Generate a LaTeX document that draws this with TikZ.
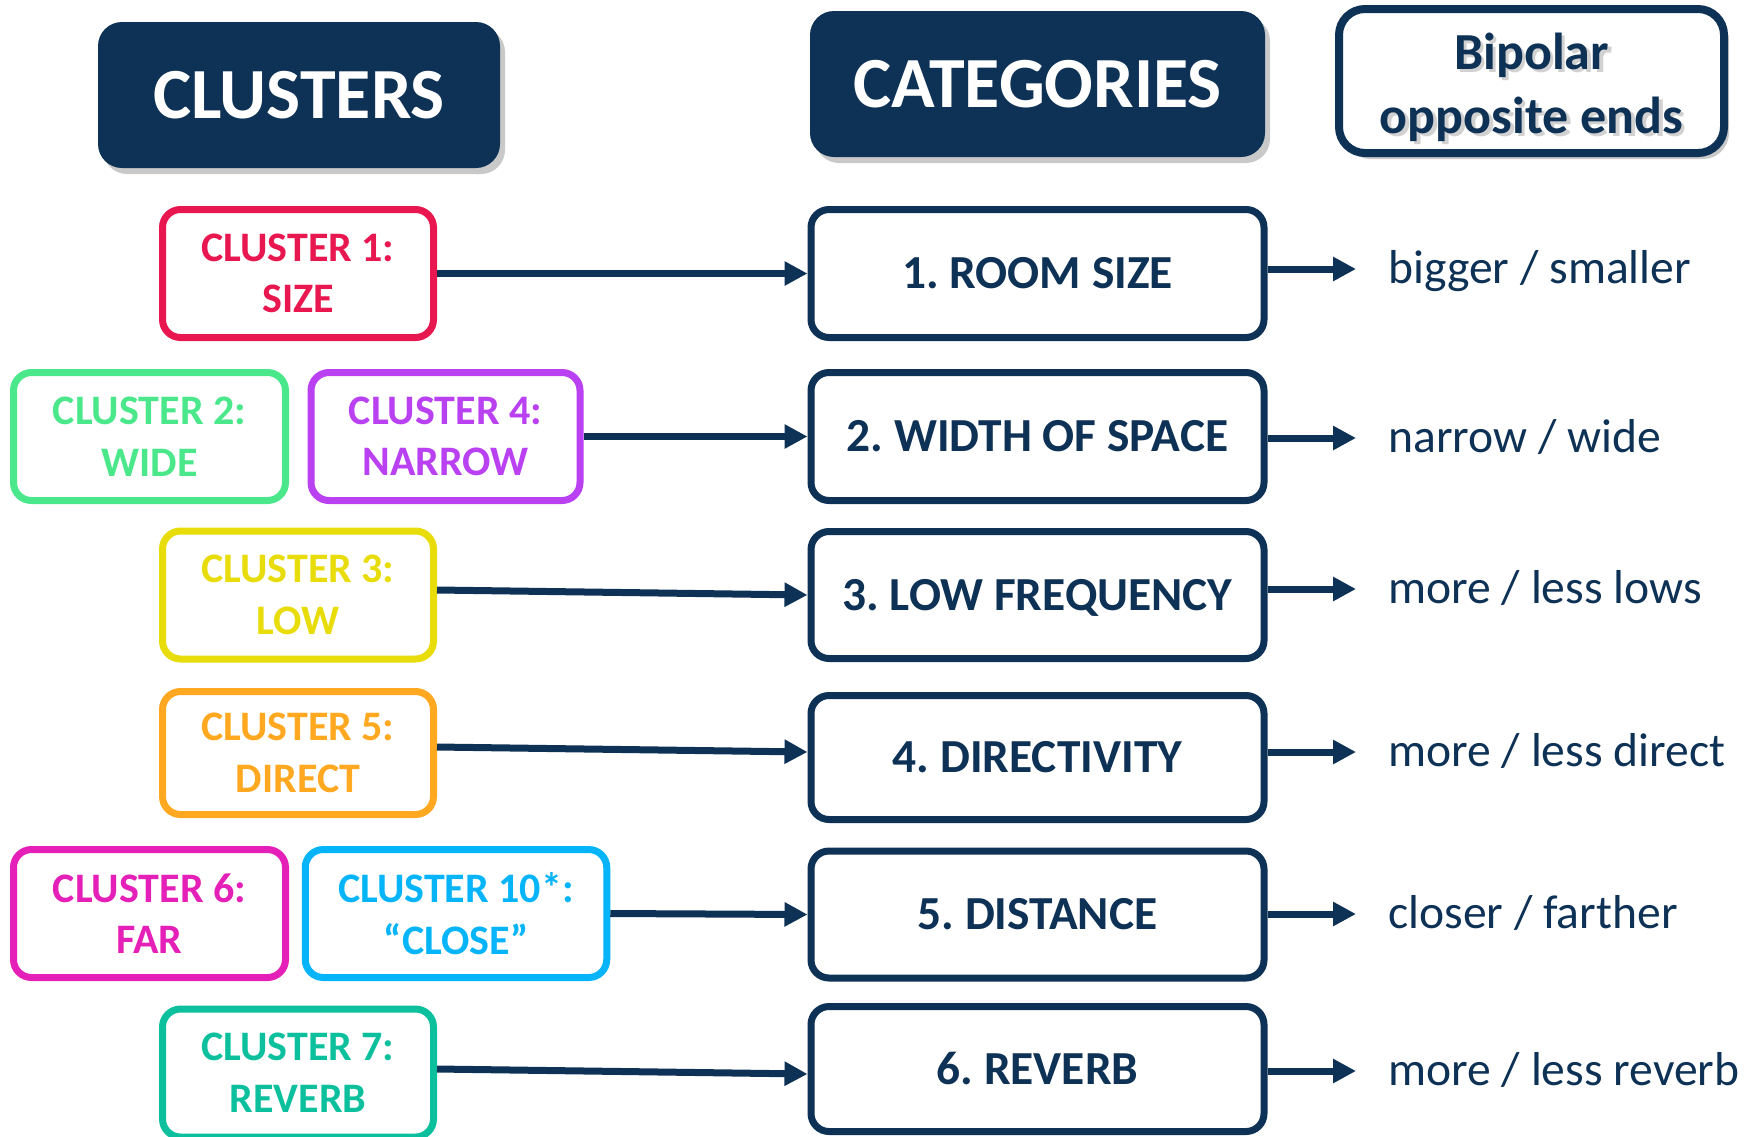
\documentclass[tikz,border=0pt]{standalone}
\usepackage{fontspec}
\setmainfont{Carlito}
\frenchspacing
\usetikzlibrary{arrows.meta,shadows}
\definecolor{navy}{RGB}{14,49,86}
\definecolor{cred}{RGB}{232,23,79}
\definecolor{cgreen}{RGB}{75,232,139}
\definecolor{cpurple}{RGB}{185,65,242}
\definecolor{cyellow}{RGB}{232,220,10}
\definecolor{corange}{RGB}{255,168,32}
\definecolor{cmagenta}{RGB}{229,32,184}
\definecolor{ccyan}{RGB}{6,180,250}
\definecolor{cteal}{RGB}{12,192,158}
\begin{document}
\begin{tikzpicture}[x=0.5pt,y=-0.5pt,
  hdrshadow/.style={drop shadow={shadow xshift=2.5pt,shadow yshift=-3pt,opacity=.3,fill=black!70}},
  hdr/.style={fill=navy, rounded corners=12pt, text=white, inner sep=0pt,
    font=\bfseries\fontsize{36}{43}\selectfont, minimum height=73pt, hdrshadow},
  clu/.style={draw=#1, text=#1, line width=3.5pt, rounded corners=9pt, fill=white,
    align=center, inner sep=0pt, minimum height=64pt,
    font=\bfseries\fontsize{21}{25.8}\selectfont},
  catbox/.style={draw=navy, text=navy, line width=3.5pt, rounded corners=9pt, fill=white,
    minimum width=226.5pt, minimum height=63.5pt, inner sep=0pt,
    text height=15.3pt, text depth=0pt,
    font=\bfseries\fontsize{23.7}{28}\selectfont},
  arr/.style={draw=navy, line width=3.5pt, -{Triangle[length=11.5pt,width=11.5pt]}},
  pole/.style={text=navy, anchor=base west, inner sep=0pt, font=\fontsize{23.8}{28}\selectfont},
  biptext/.style={align=center, inner sep=0pt, font=\bfseries\fontsize{26}{32}\selectfont}
]
\useasboundingbox (0,0) rectangle (1760,1136);

% headers
\node[hdr, minimum width=201pt] (hclu) at (299,95) {CLUSTERS};
\node[hdr, minimum width=227.5pt] (hcat) at (1037.5,84) {CATEGORIES};
\node[draw=navy, line width=4pt, fill=white, rounded corners=13pt,
  minimum width=192.5pt, minimum height=72pt, hdrshadow] (hbip) at (1531.5,81) {};
\node[biptext, text=black, opacity=.18] (hbipsh) at (1535,90) {Bipolar\\opposite ends};
\node[biptext, text=navy] (hbiptx) at (1531.5,87) {Bipolar\\opposite ends};

% clusters
\node[clu=cred, minimum width=135.5pt] (c1) at (298,273.5) {CLUSTER 1:\\SIZE};
\node[clu=cgreen, minimum width=136pt] (c2) at (149.5,436.5) {CLUSTER 2:\\WIDE};
\node[clu=cpurple, minimum width=134.5pt] (c4) at (445.5,436.5) {CLUSTER 4:\\NARROW};
\node[clu=cyellow, minimum width=135.5pt] (c3) at (298,595) {CLUSTER 3:\\LOW};
\node[clu=corange, minimum width=135.5pt, minimum height=61.5pt] (c5) at (298,753) {CLUSTER 5:\\DIRECT};
\node[clu=cmagenta, minimum width=136pt] (c6) at (149.5,913.5) {CLUSTER 6:\\FAR};
\node[clu=ccyan, minimum width=150.75pt] (c10) at (456,913.5) {CLUSTER 10*:\\“CLOSE”};
\node[clu=cteal, minimum width=135.5pt] (c7) at (298,1073) {CLUSTER 7:\\REVERB};

% categories
\node[catbox, minimum height=64pt] (cat1) at (1037.5,273.5) {1. ROOM SIZE};
\node[catbox, minimum height=64pt] (cat2) at (1037.5,436.5) {2. WIDTH OF SPACE};
\node[catbox] (cat3) at (1037.5,595) {3. LOW FREQUENCY};
\node[catbox, minimum height=62pt] (cat4) at (1037.5,757.5) {4. DIRECTIVITY};
\node[catbox] (cat5) at (1037.5,914.5) {5. DISTANCE};
\node[catbox, minimum height=62.5pt] (cat6) at (1037.5,1069) {6. REVERB};

% cluster -> category arrows
\draw[arr] (c1.east) -- (cat1.west);
\draw[arr] (c4.east) -- (cat2.west);
\draw[arr] ([yshift=2.5pt]c3.east) -- (cat3.west);
\draw[arr] ([yshift=3pt]c5.east) -- ([yshift=2.75pt]cat4.west);
\draw[arr] (c10.east) -- (cat5.west);
\draw[arr] ([yshift=2pt]c7.east) -- ([yshift=-2.5pt]cat6.west);

% category -> poles arrows
\coordinate (r1) at (1356,269);
\coordinate (r2) at (1356,438);
\coordinate (r3) at (1356,589);
\coordinate (r4) at (1356,752);
\coordinate (r5) at (1356,914);
\coordinate (r6) at (1356,1071);
\draw[arr] (cat1.east |- r1) -- (r1);
\draw[arr] (cat2.east |- r2) -- (r2);
\draw[arr] (cat3.east |- r3) -- (r3);
\draw[arr] (cat4.east |- r4) -- (r4);
\draw[arr] (cat5.east |- r5) -- (r5);
\draw[arr] (cat6.east |- r6) -- (r6);

% bipolar ends
\node[pole] (p1) at (1388,283) {bigger / smaller};
\node[pole] (p2) at (1388,452) {narrow / wide};
\node[pole] (p3) at (1388,603) {more / less lows};
\node[pole] (p4) at (1388,766) {more / less direct};
\node[pole] (p5) at (1388,928) {closer / farther};
\node[pole] (p6) at (1388,1085) {more / less reverb};
\end{tikzpicture}
\end{document}
